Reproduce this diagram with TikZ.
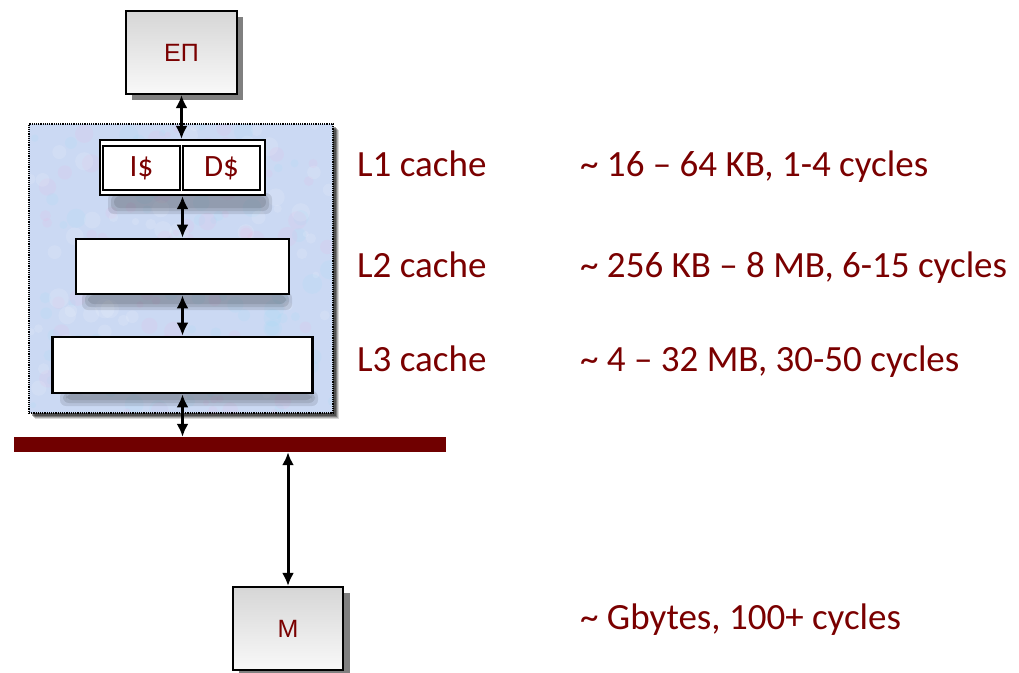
\documentclass[tikz,border=0pt]{standalone}
\usepackage{fontspec}
\setmainfont{Carlito}
\newfontfamily\boxfont{Liberation Sans}
\usetikzlibrary{arrows.meta,shadows}
\definecolor{dred}{RGB}{122,0,0}
\definecolor{busred}{RGB}{112,0,0}
\definecolor{cloud}{RGB}{203,217,243}
\tikzset{
  lbl/.style={anchor=base west,inner sep=0pt,text=dred,font=\fontsize{37}{42}\selectfont},
  graybox/.style={draw=black,line width=2.2pt,top color=gray!32,bottom color=gray!5,
     text=dred,font=\boxfont\fontsize{25}{27}\selectfont,inner sep=0pt},
  whitebox/.style={draw=black,line width=2.8pt,fill=white,inner sep=0pt},
  cachebox/.style={draw=black,line width=2.8pt,fill=white,inner sep=0pt,text=dred,
     font=\fontsize{31}{33}\selectfont},
  link/.style={line width=3pt,{Latex[length=13pt,width=12pt]}-{Latex[length=13pt,width=12pt]}},
}
\begin{document}
\begin{tikzpicture}[x=1pt,y=-1pt]
\useasboundingbox (0,0) rectangle (1019,672);
% outer cache area shadow
\foreach \d/\o in {6/0.15,5/0.2,4/0.3,3/0.35} {
  \fill[black,opacity=\o] (29+\d,124+\d) rectangle (333+\d,413+\d);
}
\fill[cloud] (29,124) rectangle (333,413);
\begin{scope}
\clip (29,124) rectangle (333,413);
\pgfmathsetseed{7}
\foreach \i in {1,...,260} {
  \pgfmathsetmacro{\px}{29+304*rnd}
  \pgfmathsetmacro{\py}{124+289*rnd}
  \pgfmathsetmacro{\pr}{3+7*rnd}
  \pgfmathsetmacro{\pc}{rnd}
  \ifdim\pc pt<0.35pt
    \fill[magenta!35,opacity=0.10] (\px,\py) circle (\pr pt);
  \else\ifdim\pc pt<0.7pt
    \fill[cyan!40,opacity=0.12] (\px,\py) circle (\pr pt);
  \else
    \fill[white,opacity=0.12] (\px,\py) circle (\pr pt);
  \fi\fi
}
\end{scope}
\node[draw=black,densely dotted,line width=1.2pt,minimum width=304pt,minimum height=289pt,inner sep=0pt] (outer) at (181,268.5) {};
% soft shadows below boxes
\foreach \s/\o in {0/0.10,3/0.10,6/0.10} {
  \fill[black,opacity=\o,rounded corners=6pt] (108+\s,193+\s*0.5) rectangle (272-\s,214-\s);
  \fill[black,opacity=\o,rounded corners=6pt] (82+\s,292+\s*0.5) rectangle (292-\s,310-\s);
  \fill[black,opacity=\o,rounded corners=6pt] (60+\s,391+\s*0.5) rectangle (318-\s,406-\s);
}
% EP box
\fill[black!50] (132,17) rectangle (243,100);
\node[graybox,minimum width=111pt,minimum height=83pt] (ep) at (181.5,52.5) {ЕП};
% L1
\node[draw=black,line width=2.2pt,fill=white,inner sep=0pt,minimum width=165pt,minimum height=55pt] (l1) at (182.5,167.5) {};
\node[cachebox,minimum width=77pt,minimum height=44pt] (is) at (141.5,168) {I\$};
\node[cachebox,minimum width=77pt,minimum height=44pt] (ds) at (221.5,168) {D\$};
% L2, L3
\node[whitebox,minimum width=213pt,minimum height=55pt] (l2) at (182.5,266.5) {};
\node[whitebox,minimum width=260pt,minimum height=56pt] (l3) at (182.5,365) {};
% bus
\node[fill=busred,minimum width=432pt,minimum height=15pt,inner sep=0pt] (bus) at (230,444.5) {};
% memory
\fill[black!50] (239,593) rectangle (350,680);
\node[graybox,minimum width=110pt,minimum height=83pt] (mem) at (288,628.5) {M};
% connectors
\draw[link] (ep.south) -- (l1.north -| ep.south);
\draw[link] (l1.south) -- (l2.north);
\draw[link] (l2.south) -- (l3.north);
\draw[link] (l3.south) -- (l3.south |- bus.north);
\draw[link] (mem.north |- bus.south) -- (mem.north);
% labels
\node[lbl] (t1) at (357,176.5) {L1 cache};
\node[lbl] (t2) at (357,277.5) {L2 cache};
\node[lbl] (t3) at (357,371.5) {L3 cache};
\node[lbl] (d1) at (580,176.5) {\char`\~\ 16 – 64 KB, 1-4 cycles};
\node[lbl] (d2) at (580,277.5) {\char`\~\ 256 KB – 8 MB, 6-15 cycles};
\node[lbl] (d3) at (580,371.5) {\char`\~\ 4 – 32 MB, 30-50 cycles};
\node[lbl] (d4) at (580,629.5) {\char`\~\ Gbytes, 100+ cycles};
\end{tikzpicture}
\end{document}
